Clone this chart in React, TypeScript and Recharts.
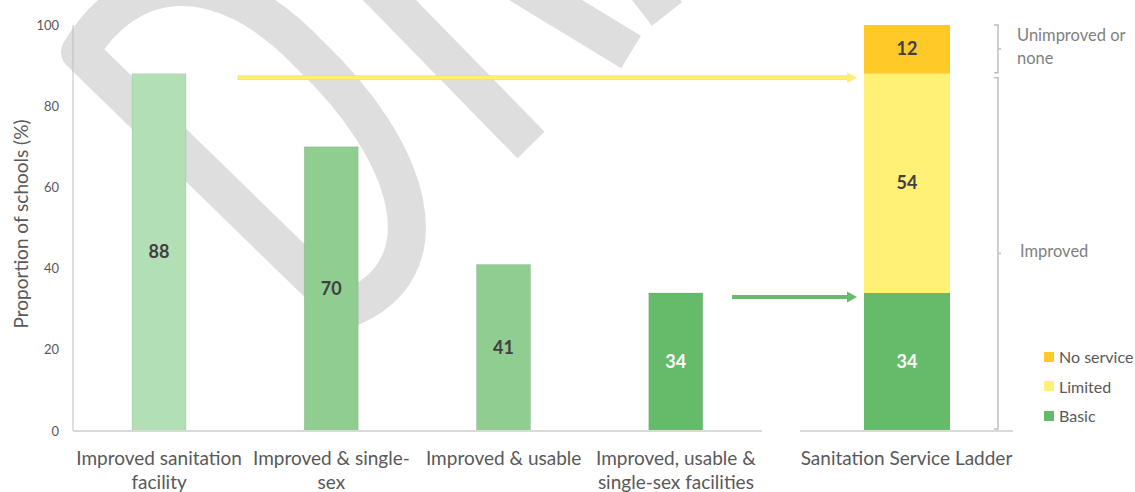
import { BarChart, Bar, XAxis, YAxis, Cell, LabelList, Legend } from 'recharts';

// left panel: the four cumulative indicators
const categories = [
  'Improved sanitation\nfacility',
  'Improved & single-\nsex',
  'Improved & usable',
  'Improved, usable &\nsingle-sex facilities',
];
const values = [88, 70, 41, 34];
const barColors = ['#b3dfb5', '#90cd91', '#90cd91', '#66bb6a'];
const valueLabelColors = ['#404040', '#404040', '#404040', '#ffffff'];

// right panel: the service ladder
const ladderCategory = ['Sanitation Service Ladder'];
const basic = [34];
const limited = [54];
const noService = [12];
const legendOrder = ['No service', 'Limited', 'Basic'];

const yTicks = [0, 20, 40, 60, 80, 100];

// annotation levels (in %)
const bracketRanges = [
  { from: 88, to: 100, text: ['Unimproved or', 'none'] },
  { from: 0, to: 88, text: ['Improved'] },
];
const arrowLevels = [87, 33];
const arrowColors = ['#ffee75', '#66bb6a'];

const leftData = categories.map((name, i) => ({ name, value: values[i] }));
const ladderData = ladderCategory.map((name, i) => ({
  name,
  Basic: basic[i],
  Limited: limited[i],
  'No service': noService[i],
}));

const H = 492;
const TOP = 25;
const BOTTOM = 11;
const XAXIS_H = 50;
const PLOT_H = H - TOP - BOTTOM - XAXIS_H;
const yPx = (v: number) => TOP + (1 - v / 100) * PLOT_H;

const GREY = '#595959';

function CategoryTick(props: any) {
  const { x, y, payload } = props;
  const lines = String(payload.value).split('\n');
  return (
    <text x={x} y={y + 26} textAnchor="middle" fill={GREY} fontSize={19}>
      {lines.map((l, i) => (
        <tspan key={i} x={x} dy={i === 0 ? 0 : 24}>
          {l}
        </tspan>
      ))}
    </text>
  );
}

const valueLabel = (colors: string[] | string) => (props: any) => {
  const { x, y, width, height, value, index } = props;
  const fill = Array.isArray(colors) ? colors[index] || colors[0] : colors;
  return (
    <text
      x={x + width / 2}
      y={y + height / 2}
      dy={6}
      textAnchor="middle"
      fontWeight={700}
      fontSize={18}
      fill={fill}
    >
      {value}
    </text>
  );
};

function LadderLegend(props: any) {
  const items = [...(props.payload || [])].sort(
    (a: any, b: any) => legendOrder.indexOf(a.value) - legendOrder.indexOf(b.value)
  );
  return (
    <div>
      {items.map((item: any) => (
        <div
          key={item.value}
          style={{ display: 'flex', alignItems: 'center', height: 29.5, fontSize: 16, color: GREY, whiteSpace: 'nowrap' }}
        >
          <span style={{ width: 10, height: 10, background: item.color, marginRight: 5, display: 'inline-block' }} />
          {item.value}
        </div>
      ))}
    </div>
  );
}

function Watermark() {
  return (
    <svg width={1135} height={492} style={{ position: 'absolute', left: 0, top: 0 }}>
      <g fill="none" stroke="#dedede" strokeWidth={38} strokeLinejoin="round">
        <path d="M 345 310 L 80 52 C 125 -25, 215 -45, 310 55 C 410 150, 450 270, 345 310 Z" />
        <path d="M 360 -30 L 531 145" />
        <path d="M 455 -55 L 631 52" />
        <path d="M 625 -40 L 667 14" />
      </g>
    </svg>
  );
}

function Annotations() {
  const bx = 998;
  return (
    <svg width={1135} height={492} style={{ position: 'absolute', left: 0, top: 0, pointerEvents: 'none' }}>
      {/* arrows from the left bars into the ladder */}
      {arrowLevels.map((lvl, i) => {
        const y = yPx(lvl);
        const x0 = i === 0 ? 238 : 732;
        const x1 = 857;
        const head = 10;
        return (
          <g key={i}>
            <rect x={x0} y={y - 2} width={x1 - head - x0} height={4} fill={arrowColors[i]} stroke={i === 0 ? '#eedc55' : 'none'} strokeWidth={0.6} />
            <polygon points={`${x1 - head},${y - 5.5} ${x1},${y} ${x1 - head},${y + 5.5}`} fill={arrowColors[i]} />
          </g>
        );
      })}
      {/* brackets */}
      {bracketRanges.map((b, i) => {
        const y0 = yPx(b.to) + (i === 1 ? 4 : 0);
        const y1 = yPx(b.from) - (i === 0 ? 1 : 2);
        const mid = (y0 + y1) / 2;
        return (
          <g key={i} stroke="#bfbfbf" strokeWidth={1.5} fill="none">
            <path d={`M ${bx - 4} ${y0} L ${bx} ${y0} L ${bx} ${y1} L ${bx - 4} ${y1}`} />
            <path d={`M ${bx} ${mid} L ${bx + 3} ${mid}`} />
          </g>
        );
      })}
      <text x={1017} y={41} fill="#7f7f7f" fontSize={16.5}>Unimproved or</text>
      <text x={1017} y={64} fill="#7f7f7f" fontSize={16.5}>none</text>
      <text x={1020} y={257} fill="#7f7f7f" fontSize={16.5}>Improved</text>
    </svg>
  );
}

export default function App() {
  return (
    <div style={{ position: 'relative', width: 1135, height: H, fontFamily: 'Lato, sans-serif', overflow: 'hidden', background: '#fff' }}>
      <style>{'body{margin:0}'}</style>
      <Watermark />
      <div style={{ position: 'absolute', left: 0, top: 0 }}>
        <BarChart width={780} height={H} data={leftData} margin={{ top: TOP, right: 18, bottom: BOTTOM, left: 13 }}>
          <YAxis
            domain={[0, 100]}
            ticks={yTicks}
            width={60}
            tickLine={false}
            tickSize={6}
            tickMargin={8}
            axisLine={{ stroke: '#bfbfbf' }}
            tick={{ fill: GREY, fontSize: 13 }}
            label={{ value: 'Proportion of schools (%)', angle: -90, position: 'center', dx: -22, dy: -4, fill: GREY, fontSize: 19 }}
          />
          <XAxis
            dataKey="name"
            height={XAXIS_H}
            tickLine={false}
            axisLine={{ stroke: '#d9d9d9', strokeWidth: 2 }}
            tick={<CategoryTick />}
            interval={0}
          />
          <Bar dataKey="value" barSize={54} isAnimationActive={false} stroke="rgba(0,0,0,0.08)">
            {leftData.map((d, i) => (
              <Cell key={d.name} fill={barColors[i]} />
            ))}
            <LabelList dataKey="value" content={valueLabel(valueLabelColors)} />
          </Bar>
        </BarChart>
      </div>
      <div style={{ position: 'absolute', left: 780, top: 0 }}>
        <BarChart width={355} height={H} data={ladderData} margin={{ top: TOP, right: 122, bottom: BOTTOM, left: 20 }}>
          <YAxis hide domain={[0, 100]} />
          <XAxis
            dataKey="name"
            height={XAXIS_H}
            tickLine={false}
            axisLine={{ stroke: '#d9d9d9', strokeWidth: 2 }}
            tick={<CategoryTick />}
          />
          <Bar dataKey="Basic" stackId="ladder" fill="#66bb6a" barSize={86} isAnimationActive={false}>
            <LabelList dataKey="Basic" content={valueLabel('#ffffff')} />
          </Bar>
          <Bar dataKey="Limited" stackId="ladder" fill="#fff176" barSize={86} isAnimationActive={false}>
            <LabelList dataKey="Limited" content={valueLabel('#404040')} />
          </Bar>
          <Bar dataKey="No service" stackId="ladder" fill="#ffca28" barSize={86} isAnimationActive={false}>
            <LabelList dataKey="No service" content={valueLabel('#404040')} />
          </Bar>
          <Legend
            layout="vertical"
            align="center"
            verticalAlign="middle"
            content={<LadderLegend />}
            wrapperStyle={{ left: 264, top: 342, width: 100 }}
          />
        </BarChart>
      </div>
      <Annotations />
    </div>
  );
}
